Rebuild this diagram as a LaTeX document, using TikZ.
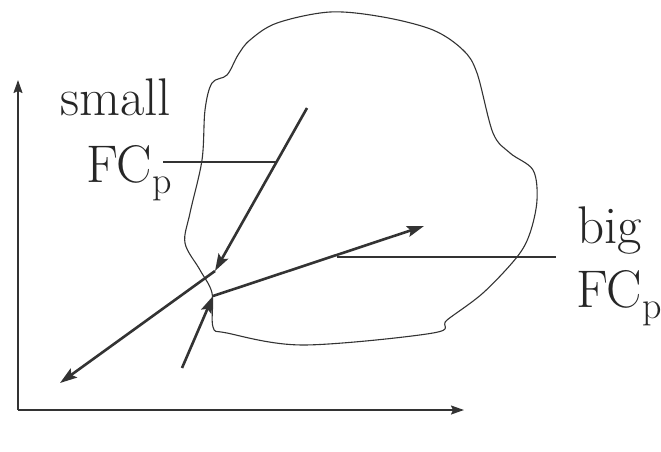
\documentclass[tikz,border=0pt]{standalone}
\usepackage{fontspec}
\usepackage{tikz}
\usetikzlibrary{arrows.meta}

\newcommand{\fcp}{FC\raisebox{-11pt}{\fontsize{38}{40}\selectfont p}}

\begin{document}
\begin{tikzpicture}[x=1pt,y=-1pt,
  ink/.style={draw=black!80},
  move/.style={ink,line width=2.6pt,-{Stealth[length=17pt,width=11pt,inset=3pt]}},
  tag/.style={anchor=base west,inner sep=0pt,text=black!85,font=\fontsize{53}{60}\selectfont}]
\useasboundingbox (0,0) rectangle (661,451);

% axes
\coordinate (O) at (18,410);
\coordinate (ytip) at (18,80);
\coordinate (xtip) at (464,410);
\draw[ink,line width=1.6pt,-{Stealth[length=13pt,width=9pt,inset=2pt]}] (O) -- (ytip);
\draw[ink,line width=1.6pt,-{Stealth[length=13pt,width=9pt,inset=2pt]}] (O) -- (xtip);

% feasible region
\draw[ink,line width=1.1pt] plot[smooth cycle,tension=0.55] coordinates {
  (330,12) (383,17) (433,30) (463,50) (477,73) (493,133) (510,153)
  (533,170) (537,200) (530,233) (517,257) (483,293) (447,320) (433,333)
  (303,345) (227,333) (213,327) (212,293) (200,270) (185,243) (190,213)
  (202,160) (205,110) (212,83) (227,75) (238,55) (250,40) (277,23)};

% moves
\coordinate (a1) at (307,108);
\coordinate (a2) at (215,271);
\coordinate (b1) at (213,296);
\coordinate (b2) at (424,226);
\coordinate (c1) at (182,368);
\coordinate (d1) at (60,383);
\draw[move] (a1) -- (a2);
\draw[move] (b1) -- (b2);
\draw[move] (c1) -- (b1);
\draw[move] (a2) -- (d1);

% labels
\node[tag] (small) at (60,115) {small};
\node[tag] (fcs) at (86,182) {\fcp};
\node[tag] (big) at (577,243) {big};
\node[tag] (fcb) at (576,307) {\fcp};

\coordinate (s1) at (163,162);
\coordinate (s2) at (276,162);
\coordinate (g1) at (337,257);
\coordinate (g2) at (556,257);
\draw[ink,line width=1.4pt] (s1) -- (s2);
\draw[ink,line width=1.4pt] (g1) -- (g2);
\end{tikzpicture}
\end{document}
